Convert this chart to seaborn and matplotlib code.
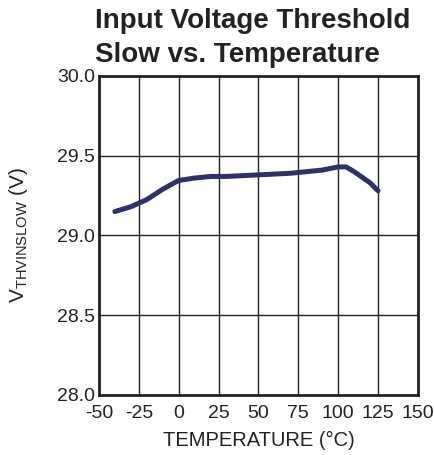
import matplotlib
matplotlib.use("Agg")
import matplotlib.pyplot as plt
import numpy as np
import pandas as pd
import seaborn as sns

temperature = [-40, -30, -20, -10, 0, 10, 20, 30, 40, 50, 60, 70, 80, 90, 100, 105, 110, 120, 125]
v_thvinslow = [29.15, 29.18, 29.225, 29.29, 29.345, 29.36, 29.37, 29.37, 29.375, 29.38,
               29.385, 29.39, 29.40, 29.41, 29.43, 29.43, 29.40, 29.33, 29.28]
x_ticks = [-50, -25, 0, 25, 50, 75, 100, 125, 150]
y_ticks = [28.0, 28.5, 29.0, 29.5, 30.0]

sns.set_style("white")
plt.rcParams["font.family"] = ["Liberation Sans", "DejaVu Sans"]
plt.rcParams["mathtext.fontset"] = "custom"
plt.rcParams["mathtext.rm"] = "Liberation Sans"
plt.rcParams["axes.unicode_minus"] = False

df = pd.DataFrame({"temp": temperature, "v": v_thvinslow})

fig = plt.figure(figsize=(4.34, 4.55), dpi=100)
ax = fig.add_axes([0.228, 0.132, 0.735, 0.701])

sns.lineplot(data=df, x="temp", y="v", ax=ax, color="#2e3068", linewidth=3.6)

ax.set_xlim(-50, 150)
ax.set_ylim(28.0, 30.0)
ax.set_xticks(x_ticks)
ax.set_yticks(y_ticks)
ax.set_yticklabels([f"{t:.1f}" for t in y_ticks])
ax.grid(True, color="#222222", linewidth=1.0)
ax.set_axisbelow(True)
for s in ax.spines.values():
    s.set_color("#222222")
    s.set_linewidth(2.0)
ax.tick_params(axis="both", length=0, labelsize=14, colors="#222222")
ax.tick_params(axis="x", pad=7)
ax.tick_params(axis="y", pad=3)

ax.set_xlabel("TEMPERATURE (°C)", fontsize=14.5, color="#222222")
ax.xaxis.set_label_coords(0.5, -0.113)
ax.set_ylabel(r"V$_{\mathrm{THVINSLOW}}$ (V)", fontsize=15, color="#222222")
ax.yaxis.set_label_coords(-0.215, 0.5)

fig.text(0.219, 1 - 28 / 455, "Input Voltage Threshold", ha="left", va="baseline",
         fontsize=20, fontweight="bold", color="#222222")
fig.text(0.219, 1 - 62 / 455, "Slow vs. Temperature", ha="left", va="baseline",
         fontsize=20, fontweight="bold", color="#222222")

fig.savefig("out.png", dpi=100)
